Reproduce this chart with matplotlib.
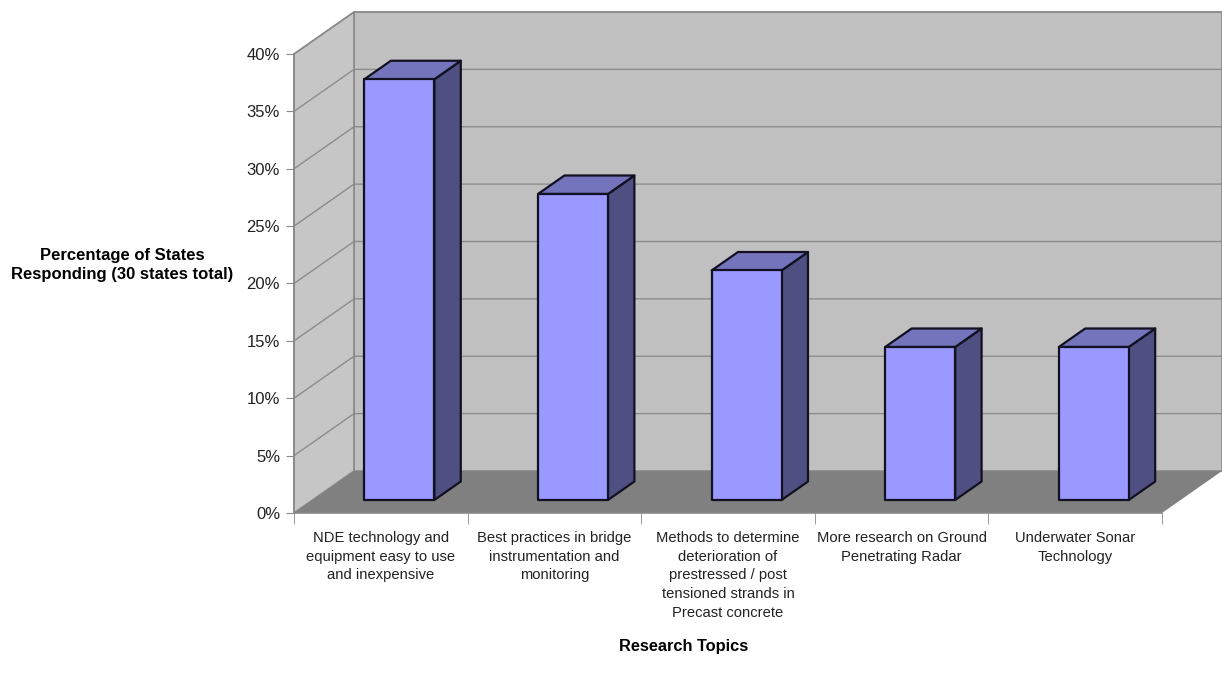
import numpy as np
import matplotlib.pyplot as plt
from matplotlib.patches import Polygon

plt.rcParams["font.family"] = ["Liberation Sans", "DejaVu Sans"]

# survey responses: share of the 30 responding states per research topic
topics = [
    "NDE technology and\nequipment easy to use\nand inexpensive",
    "Best practices in bridge\ninstrumentation and\nmonitoring",
    "Methods to determine\ndeterioration of\nprestressed / post\ntensioned strands in\nPrecast concrete",
    "More research on Ground\nPenetrating Radar",
    "Underwater Sonar\nTechnology",
]
states = np.array([11, 8, 6, 4, 4])
pct = states / 30 * 100
yticks = [0, 5, 10, 15, 20, 25, 30, 35, 40]

# pseudo-3d depth offset in data units (x: categories, y: percent)
DX = 0.3456
DY = 3.66
ymax = 40
n = len(topics)
x0, x1 = -0.5, n - 0.5

bar_w = 0.403
d_front, d_back = 0.31, 0.75

face = "#9999ff"
side = "#4f4f82"
top = "#7474bc"


def proj(x, y, d):
    return (x + d * DX, y + d * DY)


def poly(ax, pts, fc, ec="none", lw=0, z=1):
    ax.add_patch(Polygon([proj(*p) for p in pts], closed=True, facecolor=fc,
                         edgecolor=ec, linewidth=lw, zorder=z, clip_on=False,
                         joinstyle="round"))


fig = plt.figure(figsize=(12.22, 6.82), dpi=100)
ax = fig.add_axes([294 / 1222, 169 / 682, 928 / 1222, 501 / 682])
ax.set_xlim(x0, x1 + DX)
ax.set_ylim(0, ymax + DY)
ax.patch.set_visible(False)

# walls and floor
poly(ax, [(x0, 0, 1), (x1, 0, 1), (x1, ymax, 1), (x0, ymax, 1)], "#c0c0c0", "#8a8a8a", 1.2)
poly(ax, [(x0, 0, 0), (x0, 0, 1), (x0, ymax, 1), (x0, ymax, 0)], "#c6c6c6", "#8a8a8a", 1.2)
poly(ax, [(x0, 0, 0), (x1, 0, 0), (x1, 0, 1), (x0, 0, 1)], "#808080", "none", 0, z=2)

# gridlines on back and side walls
for v in yticks[1:]:
    a = proj(x0, v, 0)
    b = proj(x0, v, 1)
    c = proj(x1, v, 1)
    ax.plot([a[0], b[0], c[0]], [a[1], b[1], c[1]], color="#8c8c8c", lw=1.0,
            zorder=1.5, clip_on=False)

# bars: front, side and top faces
for i, v in enumerate(pct):
    l, r = i - bar_w / 2, i + bar_w / 2
    poly(ax, [(r, 0, d_front), (r, 0, d_back), (r, v, d_back), (r, v, d_front)],
         side, "#111122", 1.6, z=3)
    poly(ax, [(l, v, d_front), (r, v, d_front), (r, v, d_back), (l, v, d_back)],
         top, "#111122", 1.6, z=3)
    poly(ax, [(l, 0, d_front), (r, 0, d_front), (r, v, d_front), (l, v, d_front)],
         face, "#111122", 1.6, z=4)

# axes
for s in ["top", "right"]:
    ax.spines[s].set_visible(False)
ax.spines["left"].set_bounds(0, ymax)
ax.spines["bottom"].set_bounds(x0, x1)
ax.spines["left"].set_color("#8a8a8a")
ax.spines["bottom"].set_color("#8a8a8a")
ax.spines["left"].set_linewidth(1.2)
ax.spines["bottom"].set_linewidth(1.2)

ax.set_yticks(yticks)
ax.set_yticklabels([f"{t}%" for t in yticks], color="#222222")
ax.tick_params(axis="y", length=6, color="#8a8a8a", labelsize=12, pad=4)

ax.set_xticks(np.arange(n))
ax.set_xticklabels(topics, fontsize=10.6, linespacing=1.42, va="top", color="#222222")
ax.tick_params(axis="x", which="major", length=0, pad=13)
ax.set_xticks(np.arange(n + 1) - 0.5, minor=True)
ax.tick_params(axis="x", which="minor", length=8, color="#8a8a8a")

fig.text(122 / 1222, 1 - 265 / 682, "Percentage of States\nResponding (30 states total)",
         ha="center", va="center", fontsize=12, fontweight="bold", linespacing=1.4)
fig.text(684 / 1222, 1 - 646 / 682, "Research Topics", ha="center", va="center",
         fontsize=11.8, fontweight="bold")

fig.savefig("out.png", dpi=100)
